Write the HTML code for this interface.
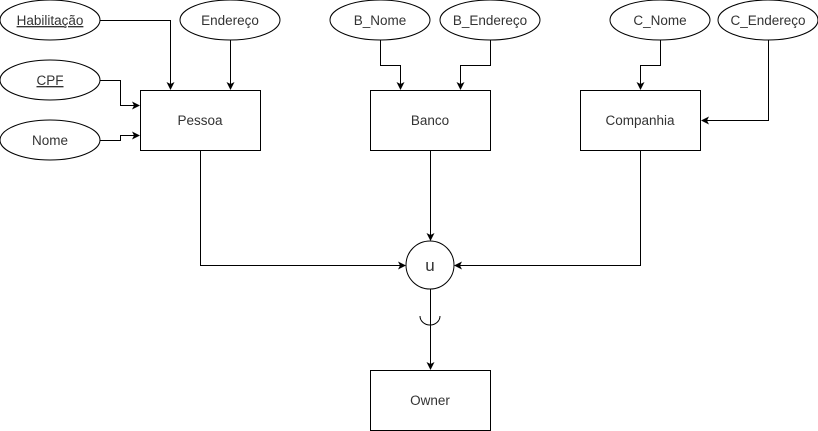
<!DOCTYPE html>
<html><head><style>body{margin:0;background:#fff}svg{display:block}text{font-family:"Liberation Sans",Arial,sans-serif;font-size:13.5px;fill:#333}</style></head><body>
<svg width="818" height="431" xmlns="http://www.w3.org/2000/svg">
<defs><marker id="a" markerWidth="8" markerHeight="8" refX="7" refY="4" orient="auto" markerUnits="userSpaceOnUse"><path d="M0,0 L8,4 L0,8 L2,4 Z" fill="#000"/></marker></defs>
<g fill="#fff" stroke="#000" stroke-width="1">
<ellipse cx="50" cy="20" rx="50" ry="20"/>
<ellipse cx="230" cy="20" rx="50" ry="20"/>
<ellipse cx="50" cy="80" rx="50" ry="20"/>
<ellipse cx="50" cy="140" rx="50" ry="20"/>
<ellipse cx="380" cy="20" rx="50" ry="20"/>
<ellipse cx="490" cy="20" rx="50" ry="20"/>
<ellipse cx="660" cy="20" rx="50" ry="20"/>
<ellipse cx="768" cy="20" rx="50" ry="20"/>
<rect x="140.5" y="90.5" width="120" height="60"/>
<rect x="370.5" y="90.5" width="120" height="60"/>
<rect x="580.5" y="90.5" width="120" height="60"/>
<rect x="370.5" y="370.5" width="120" height="60"/>
<circle cx="430" cy="265" r="24"/>
</g>
<g fill="none" stroke="#000" stroke-width="1" marker-end="url(#a)">
<path d="M100,20.5 H170.5 V89"/>
<path d="M230.5,40 V89"/>
<path d="M100,80.5 H120.5 V105.5 H139"/>
<path d="M100,140.5 H120.5 V135.5 H139"/>
<path d="M380.5,40 V65.5 H400.5 V89"/>
<path d="M490.5,40 V65.5 H460.5 V89"/>
<path d="M660.5,40 V65.5 H640.5 V89"/>
<path d="M768.5,40 V120.5 H702"/>
<path d="M200.5,150 V265.5 H405"/>
<path d="M430.5,150 V240"/>
<path d="M640.5,150 V265.5 H455"/>
<path d="M430.5,289 V369"/>
</g>
<path d="M420,316 A10,9 0 0 0 440,316" fill="none" stroke="#000"/>
<g text-anchor="middle">
<text x="50" y="25" text-decoration="underline">Habilitação</text>
<text x="230" y="25">Endereço</text>
<text x="50" y="85" text-decoration="underline">CPF</text>
<text x="50" y="145">Nome</text>
<text x="380" y="25">B_Nome</text>
<text x="490" y="25">B_Endereço</text>
<text x="660" y="25">C_Nome</text>
<text x="768" y="25">C_Endereço</text>
<text x="200" y="125">Pessoa</text>
<text x="430" y="125">Banco</text>
<text x="640" y="125">Companhia</text>
<text x="430" y="405">Owner</text>
<text x="430" y="271" style="font-size:17px">u</text>
</g>
</svg>
</body></html>
